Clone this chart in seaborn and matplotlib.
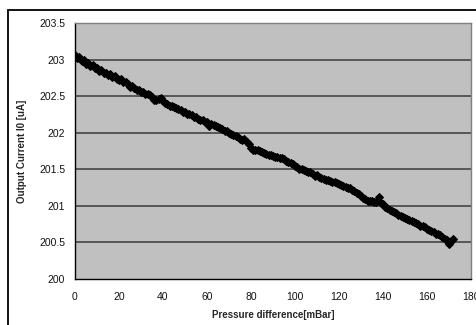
import matplotlib
matplotlib.use("Agg")
import matplotlib.pyplot as plt
import matplotlib.patches as mpatches
import seaborn as sns
import pandas as pd

pressure = [0, 1, 2, 3, 4, 5, 6, 7, 8, 9, 10, 11, 12, 13, 14, 15, 16, 17, 18, 19,
            20, 21, 22, 23, 24, 25, 26, 27, 28, 29, 30, 31, 32, 33, 34, 35, 36, 37, 38, 39,
            40, 41, 42, 43, 44, 45, 46, 47, 48, 49, 50, 51, 52, 53, 54, 55, 56, 57, 58, 59,
            60, 61, 62, 63, 64, 65, 66, 67, 68, 69, 70, 71, 72, 73, 74, 75, 76, 77, 78, 79,
            80, 81, 82, 83, 84, 85, 86, 87, 88, 89, 90, 91, 92, 93, 94, 95, 96, 97, 98, 99,
            100, 101, 102, 103, 104, 105, 106, 107, 108, 109, 110, 111, 112, 113, 114, 115, 116, 117, 118, 119,
            120, 121, 122, 123, 124, 125, 126, 127, 128, 129, 130, 131, 132, 133, 134, 135, 136, 137, 138, 139,
            140, 141, 142, 143, 144, 145, 146, 147, 148, 149, 150, 151, 152, 153, 154, 155, 156, 157, 158, 159,
            160, 161, 162, 163, 164, 165, 166, 167, 168, 169, 170, 171, 172]

current = [203.06, 203.02, 203.04, 202.98, 203.00, 202.94, 202.95, 202.91, 202.93, 202.88,
           202.89, 202.85, 202.86, 202.81, 202.82, 202.79, 202.80, 202.76, 202.77, 202.74,
           202.72, 202.73, 202.69, 202.70, 202.66, 202.62, 202.64, 202.61, 202.58, 202.59,
           202.56, 202.55, 202.53, 202.53, 202.51, 202.49, 202.45, 202.45, 202.46, 202.48,
           202.44, 202.40, 202.39, 202.37, 202.36, 202.35, 202.34, 202.32, 202.31, 202.29,
           202.28, 202.26, 202.25, 202.24, 202.22, 202.21, 202.19, 202.18, 202.17, 202.15,
           202.14, 202.09, 202.12, 202.11, 202.09, 202.08, 202.06, 202.05, 202.03, 202.02,
           202.00, 201.98, 201.97, 201.95, 201.94, 201.92, 201.90, 201.91, 201.87, 201.85,
           201.79, 201.77, 201.77, 201.76, 201.75, 201.73, 201.72, 201.71, 201.70, 201.70,
           201.68, 201.67, 201.67, 201.65, 201.66, 201.64, 201.62, 201.60, 201.58, 201.57,
           201.55, 201.53, 201.51, 201.50, 201.49, 201.47, 201.46, 201.46, 201.44, 201.41,
           201.42, 201.40, 201.38, 201.37, 201.36, 201.36, 201.34, 201.33, 201.33, 201.31,
           201.30, 201.28, 201.27, 201.26, 201.25, 201.24, 201.22, 201.20, 201.18, 201.16,
           201.14, 201.11, 201.09, 201.07, 201.06, 201.06, 201.05, 201.05, 201.12, 201.04,
           201.02, 200.99, 200.97, 200.94, 200.93, 200.92, 200.90, 200.88, 200.86, 200.85,
           200.84, 200.82, 200.81, 200.79, 200.78, 200.76, 200.75, 200.73, 200.72, 200.71,
           200.69, 200.67, 200.66, 200.64, 200.62, 200.61, 200.60, 200.57, 200.55, 200.53,
           200.48, 200.52, 200.55]

x_ticks = [0, 20, 40, 60, 80, 100, 120, 140, 160, 180]
y_ticks = [200, 200.5, 201, 201.5, 202, 202.5, 203, 203.5]
y_tick_labels = ["200", "200.5", "201", "201.5", "202", "202.5", "203", "203.5"]

df = pd.DataFrame({"Pressure difference[mBar]": pressure, "Output Current I0 [uA]": current})

sns.set_style("white")
plt.rcParams["font.family"] = ["Liberation Sans", "DejaVu Sans"]

fig = plt.figure(figsize=(4.77, 3.25), dpi=100)
ax = fig.add_axes([75 / 477, 1 - 279 / 325, (471 - 75) / 477, (279 - 23) / 325])

# figure border (chart area frame)
fig.patches.append(mpatches.Rectangle((8.5 / 477, -0.05), 1.1, 1 - 9.5 / 325 + 0.05,
                                      transform=fig.transFigure, fill=False,
                                      edgecolor="black", linewidth=1.3, zorder=0))

ax.set_facecolor("#c0c0c0")
for yv in y_ticks[1:-1]:
    ax.axhline(yv, color="#3a3a3a", linewidth=1.1, zorder=1)

sns.lineplot(data=df, x="Pressure difference[mBar]", y="Output Current I0 [uA]", ax=ax,
             color="black", linewidth=2.0, marker="D", markersize=3.8,
             markeredgecolor="black", markerfacecolor="black", zorder=3)

ax.set_xlim(0, 180)
ax.set_ylim(200, 203.5)
ax.set_xticks(x_ticks)
ax.set_yticks(y_ticks)
ax.set_yticklabels(y_tick_labels)
ax.tick_params(axis="both", direction="out", length=4, width=1, color="black",
               labelsize=7.5, labelcolor="#111111", pad=3)
ax.tick_params(axis="x", pad=5)

for side in ["top", "right"]:
    ax.spines[side].set_color("#808080")
    ax.spines[side].set_linewidth(1.0)
for side in ["left", "bottom"]:
    ax.spines[side].set_color("black")
    ax.spines[side].set_linewidth(1.0)

ax.set_xlabel("Pressure difference[mBar]", fontsize=7, fontweight="bold", labelpad=6)
ax.set_ylabel("Output Current I0 [uA]", fontsize=7, fontweight="bold", labelpad=9)

fig.savefig("out.png", dpi=100)
